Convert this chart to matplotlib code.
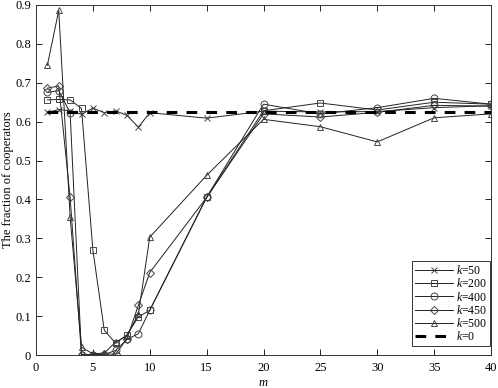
import matplotlib
matplotlib.use("Agg")
import matplotlib.pyplot as plt

plt.rcParams['font.family'] = ['Liberation Serif', 'DejaVu Serif']
plt.rcParams['mathtext.fontset'] = 'custom'
plt.rcParams['mathtext.it'] = 'Liberation Serif:italic'
plt.rcParams['mathtext.rm'] = 'Liberation Serif'

m = [1, 2, 3, 4, 5, 6, 7, 8, 9, 10, 15, 20, 25, 30, 35, 40]
k50 = [0.624, 0.631, 0.628, 0.619, 0.635, 0.623, 0.628, 0.616, 0.586, 0.623, 0.609, 0.627, 0.625, 0.626, 0.636, 0.641]
k200 = [0.656, 0.657, 0.656, 0.634, 0.270, 0.064, 0.030, 0.052, 0.098, 0.115, 0.405, 0.628, 0.648, 0.630, 0.650, 0.645]
k400 = [0.675, 0.680, 0.623, 0.001, 0.001, 0.001, 0.012, 0.040, 0.055, 0.115, 0.406, 0.645, 0.620, 0.636, 0.660, 0.645]
k450 = [0.686, 0.692, 0.405, 0.001, 0.001, 0.003, 0.002, 0.042, 0.128, 0.212, 0.405, 0.620, 0.612, 0.624, 0.642, 0.640]
k500 = [0.745, 0.886, 0.355, 0.020, 0.003, 0.005, 0.033, 0.050, 0.105, 0.303, 0.462, 0.606, 0.587, 0.548, 0.610, 0.620]
k0 = [0.625] * len(m)

series = [("$k$=50", k50, "x"), ("$k$=200", k200, "s"), ("$k$=400", k400, "o"),
          ("$k$=450", k450, "D"), ("$k$=500", k500, "^")]

fig = plt.figure(figsize=(4.98, 3.88), dpi=100)
ax = fig.add_axes([36/498, 33/388, 455/498, 350/388])
for lab, vals, mk in series:
    ms = 5 if mk != "D" else 4.2
    ax.plot(m, vals, color="#222222", lw=0.7, marker=mk, ms=ms,
            mfc="none", mec="#444444", mew=0.7, label=lab)
ax.plot(m, k0, color="black", lw=2.2, ls=(0, (3.5, 3)), label="$k$=0")

ax.set_xlim(0, 40)
ax.set_ylim(0, 0.9)
ax.set_xticks(range(0, 41, 5))
ax.set_yticks([0, 0.1, 0.2, 0.3, 0.4, 0.5, 0.6, 0.7, 0.8, 0.9])
ax.set_yticklabels(["0", "0.1", "0.2", "0.3", "0.4", "0.5", "0.6", "0.7", "0.8", "0.9"])
ax.tick_params(direction="in", top=True, right=True, length=4, width=0.6, labelsize=9)
ax.tick_params(axis="x", pad=5)
for s in ax.spines.values():
    s.set_linewidth(0.7)
    s.set_color("#333333")
ax.set_xlabel("$m$", fontsize=9, labelpad=2)
ax.set_ylabel("The fraction of cooperators", fontsize=9, labelpad=1)
leg = ax.legend(loc="lower right", bbox_to_anchor=(0.997, 0.025), fontsize=8.5,
                fancybox=False, framealpha=1, edgecolor="#333333",
                handlelength=3.2, borderpad=0.25, labelspacing=0.02,
                handletextpad=0.25, borderaxespad=0)
leg.get_frame().set_linewidth(0.7)
fig.savefig("out.png", dpi=100)
